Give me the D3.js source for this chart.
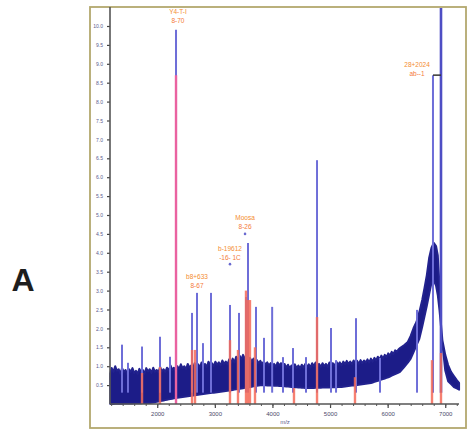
<!DOCTYPE html>
<html>
<head>
<meta charset="utf-8">
<script src="https://cdn.jsdelivr.net/npm/d3@7"></script>
<style>
  body { margin: 0; background: #fff; }
  svg { display: block; font-family: "Liberation Sans", Arial, sans-serif; }
</style>
</head>
<body>
<svg id="chart" width="469" height="433"></svg>
<script>
// spectrum band, upper edge (m/z, intensity)
const envMz = [1185,1210,1240,1270,1300,1330,1360,1390,1420,1450,1480,1510,1540,1570,1600,1630,1660,1690,1720,1750,
  1780,1810,1840,1870,1900,1930,1960,1990,2020,2050,2080,2110,2140,2170,2200,2230,2260,2290,2320,2350,
  2380,2410,2440,2470,2500,2530,2560,2590,2620,2650,2680,2710,2740,2770,2800,2830,2860,2890,2920,2950,
  2980,3010,3040,3070,3100,3130,3160,3190,3220,3250,3280,3310,3340,3370,3400,3430,3460,3490,3520,3550,
  3580,3610,3640,3670,3700,3730,3760,3790,3820,3850,3880,3910,3940,3970,4000,4030,4060,4090,4120,4150,
  4180,4210,4240,4270,4300,4330,4360,4390,4420,4450,4480,4510,4540,4570,4600,4630,4660,4690,4720,4750,
  4780,4810,4840,4870,4900,4930,4960,4990,5020,5050,5080,5110,5140,5170,5200,5230,5260,5290,5320,5350,
  5380,5410,5440,5470,5500,5530,5560,5590,5620,5650,5680,5710,5740,5770,5800,5830,5860,5890,5920,5950,
  5980,6010,6040,6070,6100,6130,6160,6190,6214,6290,6350,6400,6450,6500,6550,6600,6640,6680,6720,6760,
  6800,6840,6870,6900,6920,6950,7000,7050,7100,7150,7200,7240];
const envTop = [0.80,0.95,0.85,1.00,0.88,0.92,0.80,0.95,0.85,0.90,0.78,0.92,0.85,0.95,0.82,0.88,0.80,0.93,0.84,0.90,
  0.80,0.95,0.86,0.92,0.82,0.96,0.85,0.90,0.84,0.98,0.86,0.92,0.85,0.96,0.88,1.02,0.90,0.96,0.88,1.00,
  0.92,1.05,0.95,1.00,0.92,1.06,0.96,1.02,0.94,1.08,0.98,1.05,0.96,1.10,1.00,1.06,0.98,1.12,1.02,1.08,
  1.00,1.12,1.04,1.10,1.02,1.15,1.06,1.12,1.05,1.18,1.08,1.20,1.10,1.25,1.15,1.28,1.18,1.30,1.20,1.26,
  1.15,1.22,1.12,1.20,1.10,1.16,1.08,1.14,1.06,1.12,1.04,1.10,1.02,1.08,1.00,1.06,0.98,1.10,1.02,1.08,
  0.98,1.06,0.96,1.04,0.94,1.02,0.96,1.05,0.95,1.02,0.94,1.04,0.96,1.06,0.98,1.05,0.96,1.08,1.00,1.10,
  1.00,1.06,0.98,1.08,1.00,1.06,0.98,1.10,1.02,1.08,1.00,1.12,1.04,1.10,1.02,1.12,1.05,1.14,1.06,1.12,
  1.05,1.15,1.08,1.14,1.06,1.16,1.08,1.15,1.10,1.18,1.10,1.20,1.12,1.22,1.15,1.25,1.18,1.28,1.20,1.30,
  1.24,1.34,1.28,1.38,1.32,1.42,1.38,1.45,1.48,1.56,1.64,1.80,2.01,2.17,2.43,2.75,3.07,3.41,3.86,4.13,
  4.26,4.18,3.94,3.15,2.22,1.69,1.30,1.03,0.85,0.74,0.63,0.56];
// spectrum band, lower edge
const baseMz = [1180,1900,2290,2700,3300,3800,4100,4600,5200,5700,6000,6214,6388,6560,6680,6760,6820,6880,6930,6980,7050,7150,7240];
const baseVal = [0,0.03,0.15,0.24,0.37,0.50,0.48,0.42,0.45,0.55,0.70,0.85,1.16,1.76,2.6,3.2,3.3,2.8,2.0,1.0,0.6,0.45,0.38];

// measured peaks (blue)
const peakMz = [1388,1492,1736,2048,2222,2326,2604,2690,2794,2933,3263,3419,3541,3576,3715,3853,3995,4183,4357,4583,4774,5017,5104,5451,5867,6510,6787,6926];
const peakInt = [1.57,1.09,1.52,1.78,1.25,9.9,2.41,2.94,1.61,2.94,2.62,2.41,2.83,4.26,2.57,1.75,2.57,1.24,1.48,1.24,6.45,2.01,1.16,2.27,1.22,2.49,8.7,10.5];
// assigned peaks (red)
const refMz = [1736,2048,2604,2656,3263,3402,3541,3576,3610,3697,4374,4774,5433,6770,6926];
const refInt = [0.82,0.98,1.43,1.43,1.69,1.43,3.0,2.75,2.75,1.5,0.42,2.3,0.71,1.16,1.35];
const tallRef = {mz: 2326, int: 8.7};

// annotations (anchor m/z, anchor intensity, two text lines)
const labelMz = [2360,2690,3263,3524,6510];
const labelInt = [9.96,2.96,3.70,4.50,8.56];
const labelLine1 = ["Y4-T-I","b8+633","b-19612","Moosa","28+2024"];
const labelLine2 = ["8-70","8-67","-16- 1C","8-26","ab--1"];
const labelDot = [false,false,true,true,false];

const xTicks = [2000,3000,4000,5000,6000,7000];
const yTicks = [0.5,1.0,1.5,2.0,2.5,3.0,3.5,4.0,4.5,5.0,5.5,6.0,6.5,7.0,7.5,8.0,8.5,9.0,9.5,10.0];

const svg = d3.select("#chart");
const x = d3.scaleLinear().domain([1180, 7256]).range([110, 460]);
const y = d3.scaleLinear().domain([0, 10]).range([404, 26]);

// frame
svg.append("rect")
    .attr("x", 90).attr("y", 7).attr("width", 376).attr("height", 421)
    .attr("fill", "none").attr("stroke", "#b3a86e").attr("stroke-width", 1.8);

// "A"
svg.append("text")
    .attr("x", 23).attr("y", 291)
    .attr("text-anchor", "middle")
    .style("font-size", "32px").style("font-weight", "bold")
    .attr("fill", "#1e1e1e")
    .text("A");

svg.append("clipPath").attr("id", "plot")
    .append("rect").attr("x", 108).attr("y", 8).attr("width", 357).attr("height", 397);

const g = svg.append("g").attr("clip-path", "url(#plot)");

// band
const bottomAt = d3.scaleLinear().domain(baseMz).range(baseVal);
const band = envMz.map((m, i) => ({mz: m, top: envTop[i], bot: bottomAt(m)}));
g.append("path")
    .datum(band)
    .attr("fill", "#1c1c88")
    .attr("stroke", "#22228e")
    .attr("stroke-width", 2)
    .attr("stroke-linejoin", "round")
    .attr("d", d3.area()
        .x(d => x(d.mz))
        .y0(d => y(d.bot))
        .y1(d => y(d.top)));

// blue peaks
g.selectAll(".peak")
    .data(peakMz)
    .enter()
    .append("line")
    .attr("class", "peak")
    .attr("x1", d => x(d)).attr("x2", d => x(d))
    .attr("y1", y(0.3))
    .attr("y2", (d, i) => y(peakInt[i]))
    .attr("stroke", (d, i) => peakInt[i] > 10 ? "#4e4ec4" : "#6e6ed8")
    .attr("stroke-width", (d, i) => peakInt[i] > 10 ? 2.6 : 2);

// red peaks
g.selectAll(".ref")
    .data(refMz)
    .enter()
    .append("line")
    .attr("class", "ref")
    .attr("x1", d => x(d)).attr("x2", d => x(d))
    .attr("y1", y(0))
    .attr("y2", (d, i) => y(refInt[i]))
    .attr("stroke", "#f46a58")
    .attr("stroke-opacity", 0.85)
    .attr("stroke-width", 2.4);

g.append("line")
    .attr("x1", x(tallRef.mz)).attr("x2", x(tallRef.mz))
    .attr("y1", y(0)).attr("y2", y(tallRef.int))
    .attr("stroke", "#ea62a0")
    .attr("stroke-width", 2.4);

// bracket at right pair
svg.append("line")
    .attr("x1", x(6787)).attr("x2", x(6926))
    .attr("y1", y(8.7)).attr("y2", y(8.7))
    .attr("stroke", "#333").attr("stroke-width", 1.5);

// annotations
const ann = svg.selectAll(".ann")
    .data(labelMz)
    .enter()
    .append("g")
    .attr("class", "ann")
    .attr("transform", (d, i) => "translate(" + x(d) + "," + y(labelInt[i]) + ")");
ann.append("text")
    .attr("text-anchor", "middle")
    .attr("y", -13.5)
    .style("font-size", "6.5px")
    .attr("fill", "#f48c30")
    .text((d, i) => labelLine1[i]);
ann.append("text")
    .attr("text-anchor", "middle")
    .attr("y", -4.5)
    .style("font-size", "6.5px")
    .attr("fill", "#f47a3a")
    .text((d, i) => labelLine2[i]);
ann.filter((d, i) => labelDot[i])
    .append("circle")
    .attr("r", 1.3)
    .attr("fill", "#6a6ad0");

// axes
const yAxis = d3.axisLeft(y)
    .tickValues(yTicks)
    .tickSize(3)
    .tickFormat(d3.format(".1f"));
const gy = svg.append("g")
    .attr("transform", "translate(110,0)")
    .call(yAxis);
gy.select(".domain").remove();
gy.selectAll("line").attr("stroke", "#444").attr("stroke-width", 1.2);
gy.selectAll("text")
    .style("font-size", "5px")
    .attr("fill", "#5a5a8e")
    .attr("dx", "-1");
svg.append("line")
    .attr("x1", 110).attr("x2", 110).attr("y1", 7).attr("y2", 404)
    .attr("stroke", "#555").attr("stroke-width", 1.6);

const xAxis = d3.axisBottom(x)
    .tickValues(xTicks)
    .tickSize(4)
    .tickFormat(d3.format("d"));
const gx = svg.append("g")
    .attr("transform", "translate(0,404)")
    .call(xAxis);
gx.select(".domain").remove();
gx.selectAll("line").attr("stroke", "#444").attr("stroke-width", 1.2);
gx.selectAll("text")
    .style("font-size", "6px")
    .attr("fill", "#4a4a6a")
    .attr("dy", "0.9em");
const minor = svg.append("g")
    .attr("transform", "translate(0,404)")
    .call(d3.axisBottom(x).tickValues(d3.range(1200, 7250, 200)).tickSize(2).tickFormat(""));
minor.select(".domain").remove();
minor.selectAll("line").attr("stroke", "#555");
svg.append("line")
    .attr("x1", 110).attr("x2", 459).attr("y1", 404).attr("y2", 404)
    .attr("stroke", "#555").attr("stroke-width", 1.6);

svg.append("text")
    .attr("x", 285).attr("y", 424)
    .attr("text-anchor", "middle")
    .style("font-size", "6px")
    .attr("fill", "#5a5a8a")
    .text("m/z");
</script>
</body>
</html>
